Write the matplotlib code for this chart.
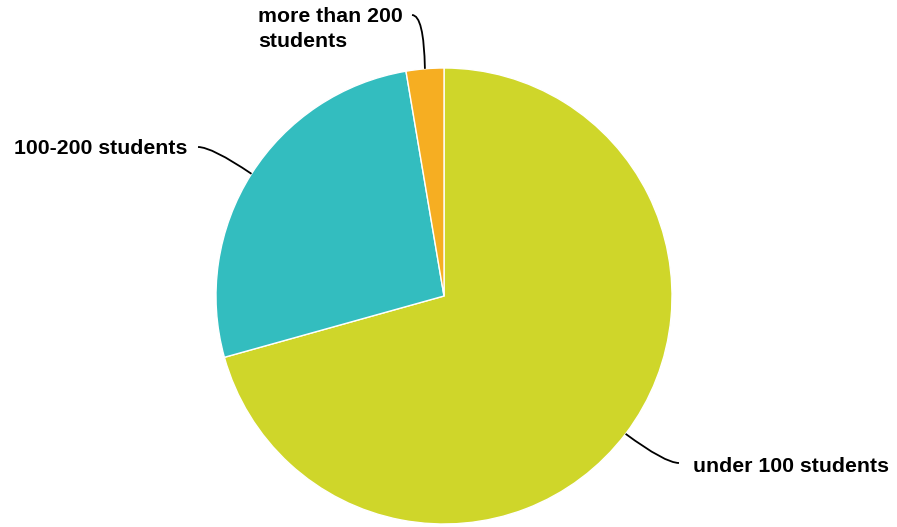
import numpy as np
import matplotlib
matplotlib.use("Agg")
import matplotlib.pyplot as plt
from matplotlib.path import Path
from matplotlib.patches import PathPatch

labels = ["under 100 students", "100-200 students", "more than 200\nstudents"]
values = [53, 20, 2]
colors = ["#cfd62a", "#33bdbf", "#f6ae22"]

W, H = 897, 527
CX, CY, R = 444, H - 296, 228

# label anchor (x, y from top), alignment, connector end (x, y from top)
label_pos = [(693, 467, "left", "center"), (187, 149, "right", "center"), (258, 7, "left", "top")]
line_end = [(679, 463), (198, 147), (412, 15)]

plt.rcParams["font.family"] = ["Liberation Sans", "DejaVu Sans"]

fig = plt.figure(figsize=(W / 100, H / 100), dpi=100)
ax = fig.add_axes([0, 0, 1, 1])
ax.axis("off")

ax.pie(
    values,
    colors=colors,
    center=(CX, CY),
    radius=R,
    startangle=90,
    counterclock=False,
    wedgeprops=dict(edgecolor="white", linewidth=1),
)
ax.set_xlim(0, W)
ax.set_ylim(0, H)
ax.set_aspect("equal")

total = float(sum(values))
cum = 0.0
for i, v in enumerate(values):
    mid = (cum + v / 2) / total * 360.0
    cum += v
    a = np.deg2rad(90 - mid)
    x0, y0 = CX + R * np.cos(a), CY + R * np.sin(a)
    x2, y2 = line_end[i][0], H - line_end[i][1]
    if i == 2:
        ctrl = (x0 - 1, y2)
    else:
        ctrl = (x2 - 14 if x2 > x0 else x2 + 14, y2)
    path = Path([(x0, y0), ctrl, (x2, y2)], [Path.MOVETO, Path.CURVE3, Path.CURVE3])
    ax.add_patch(PathPatch(path, facecolor="none", edgecolor="black", linewidth=1.3))
    lx, ly, ha, va = label_pos[i]
    ax.text(lx, H - ly, labels[i], ha=ha, va=va, fontsize=15.3,
            fontweight="bold", color="black", linespacing=1.37)

fig.savefig("out.png", dpi=100)
